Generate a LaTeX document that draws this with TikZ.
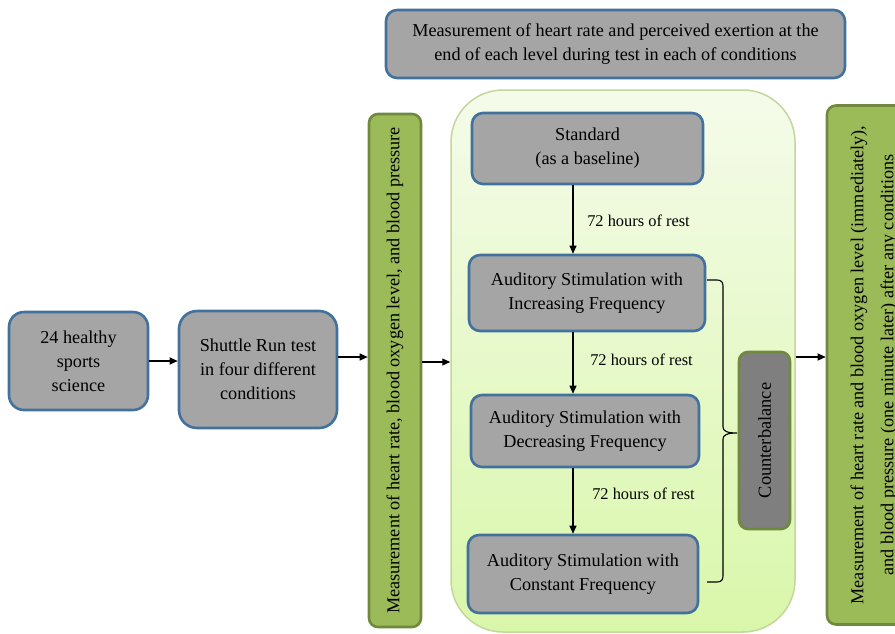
\documentclass[tikz,border=0pt]{standalone}
\usepackage{fontspec}
\setmainfont{Liberation Serif}
\usetikzlibrary{arrows.meta}
\definecolor{boxgray}{HTML}{A5A5A5}
\definecolor{boxblue}{HTML}{41719C}
\definecolor{olivefill}{HTML}{9BBB59}
\definecolor{oliveedge}{HTML}{71893F}
\definecolor{cbgray}{HTML}{7F7F7F}
\definecolor{contedge}{HTML}{C3D69B}
\definecolor{conttop}{HTML}{F5FBEA}
\definecolor{contbot}{HTML}{D9F7AA}
\tikzset{
  graybox/.style={draw=boxblue, line width=2.6pt, fill=boxgray, rounded corners=11pt,
    align=center, inner sep=2pt, font=\fontsize{18.2}{24}\selectfont},
  greenbox/.style={draw=oliveedge, line width=2.6pt, fill=olivefill, rounded corners=9pt,
    align=center, inner sep=2pt, rotate=90, font=\fontsize{18.2}{24}\selectfont},
  cbbox/.style={draw=oliveedge, line width=2.6pt, fill=cbgray, rounded corners=9pt,
    align=center, inner sep=2pt, rotate=90, font=\fontsize{18.4}{24}\selectfont},
  container/.style={draw=contedge, line width=1.5pt, top color=conttop, bottom color=contbot,
    rounded corners=52pt},
  arr/.style={-{Triangle[length=8pt,width=7pt]}, line width=1.1pt, black},
  restlabel/.style={font=\fontsize{16.4}{19}\selectfont, inner sep=1pt},
  braceline/.style={line width=1.1pt, black}
}
\begin{document}
\begin{tikzpicture}[x=1pt,y=-1pt]
\useasboundingbox (0,0) rectangle (895,633);
\clip (0,0) rectangle (895,633);

% container
\node[container, minimum width=344pt, minimum height=542pt] (cont) at (623,361) {};

% top box
\node[graybox, minimum width=459pt, minimum height=68pt] (top) at (615.5,44)
  {Measurement of heart rate and perceived exertion at the\\end of each level during test in each of conditions};

% left chain
\node[graybox, rounded corners=15pt, minimum width=139pt, minimum height=98pt] (p24) at (78.5,361)
  {24 healthy\\sports\\science};
\node[graybox, rounded corners=18pt, minimum width=158pt, minimum height=117pt] (shuttle) at (258,369.5)
  {Shuttle Run test\\in four different\\conditions};
\node[greenbox, minimum width=513pt, minimum height=52pt] (lg) at (395,370.5)
  {Measurement of heart rate, blood oxygen level, and blood pressure};

% conditions
\node[graybox, minimum width=231pt, minimum height=71pt] (std) at (587.5,148.5)
  {Standard\\(as a baseline)};
\node[graybox, minimum width=236pt, minimum height=76pt] (inc) at (587,293)
  {Auditory Stimulation with\\Increasing Frequency};
\node[graybox, minimum width=228pt, minimum height=72pt] (dec) at (585,431)
  {Auditory Stimulation with\\Decreasing Frequency};
\node[graybox, minimum width=230pt, minimum height=78pt] (con) at (583,574)
  {Auditory Stimulation with\\Constant Frequency};

\node[cbbox, minimum width=177pt, minimum height=51pt] (cb) at (764.5,440.5) {Counterbalance};

% right box (cut by the picture's right edge, as in the reference)
\node[greenbox, minimum width=519pt, minimum height=94pt] (rg) at (874,365)
  {Measurement of heart rate and blood oxygen level (immediately),\\[6pt]and blood pressure (one minute later) after any conditions};

% rest labels
\node[restlabel] (r1) at (638.5,221) {72 hours of rest};
\node[restlabel] (r2) at (641.5,360) {72 hours of rest};
\node[restlabel] (r3) at (643.5,494) {72 hours of rest};

% helper coordinates
\coordinate (ax) at (573,0);
\coordinate (y357) at (0,357);
\coordinate (y362) at (0,362);

% arrows
\draw[arr] (p24.east) -- (shuttle.west |- p24.east);
\draw[arr] (shuttle.east |- y357) -- (lg.north |- y357);
\draw[arr] (lg.south |- y362) -- (cont.west |- y362);
\draw[arr] (std.south -| ax) -- (inc.north -| ax);
\draw[arr] (inc.south -| ax) -- (dec.north -| ax);
\draw[arr] (dec.south -| ax) -- (con.north -| ax);
\draw[arr] (cont.east |- y357) -- (rg.north |- y357);

% brace
\draw[braceline] (707,280) -- (717,280) .. controls (721,280) and (723,282) .. (723,286)
  -- (723,427) .. controls (723,431) and (727,433) .. (737,433)
  .. controls (727,433) and (723,435) .. (723,439)
  -- (723,576) .. controls (723,580) and (721,582) .. (717,582) -- (707,582);
\end{tikzpicture}
\end{document}
